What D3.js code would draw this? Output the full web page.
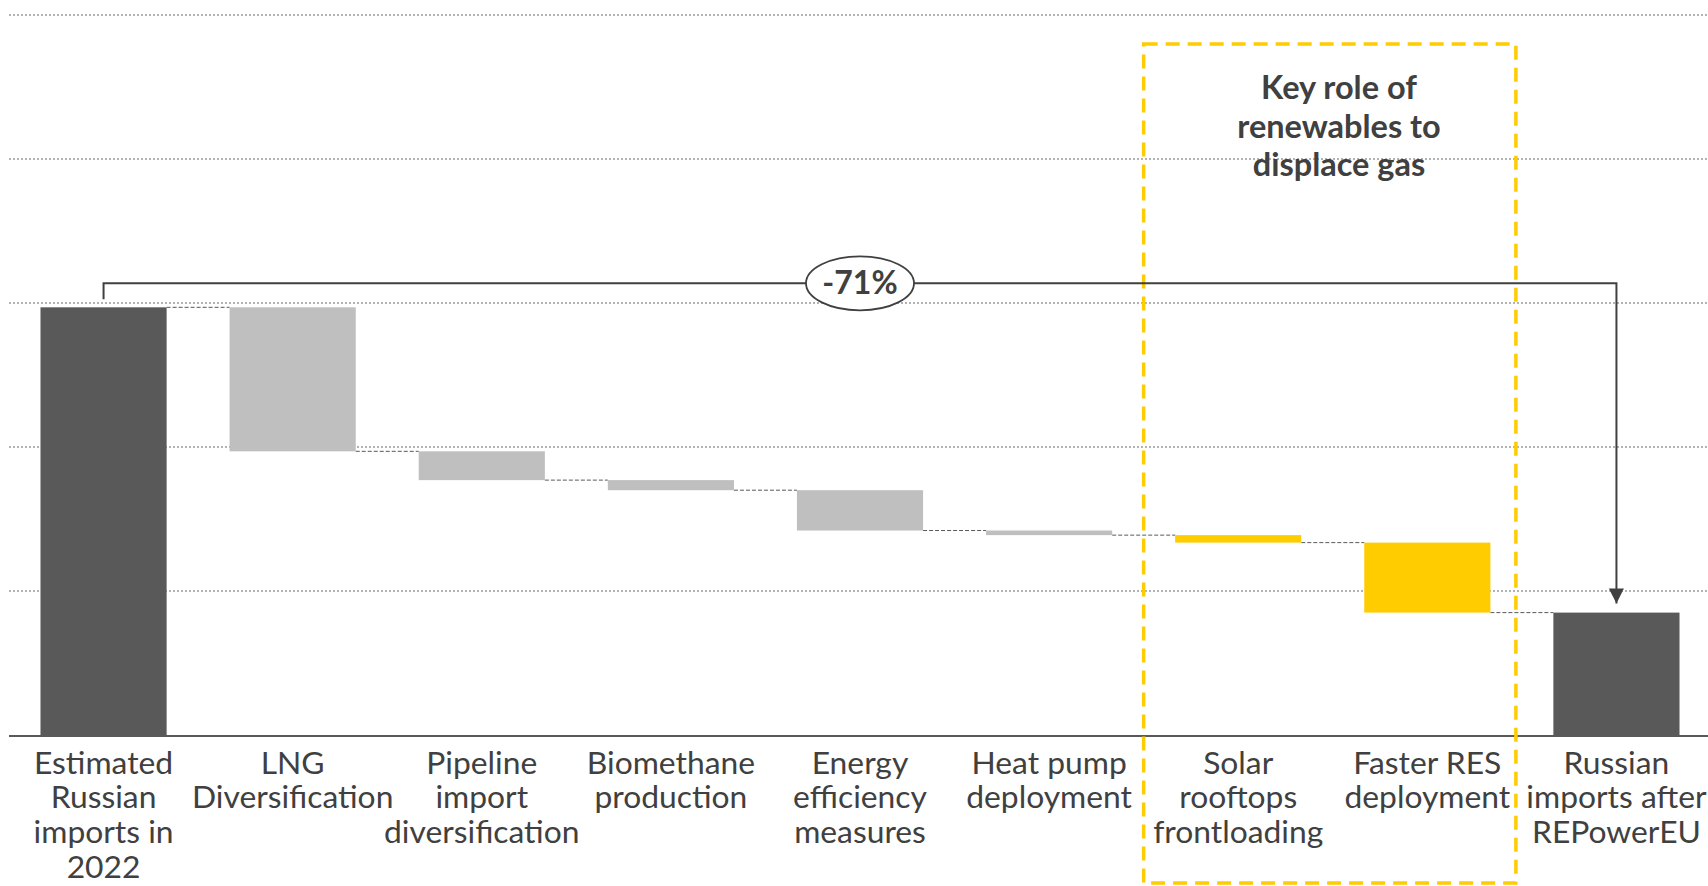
<!DOCTYPE html>
<html>
<head>
<meta charset="utf-8">
<script src="https://cdn.jsdelivr.net/npm/d3@7"></script>
<style>
  html, body { margin: 0; padding: 0; background: #fff; }
  svg { display: block; }
</style>
</head>
<body>
<div class="chart"></div>
<script>
//chart data (bcm-like units, gridline every 50)
const categories = ["start", "lng", "pipeline", "biomethane", "efficiency", "heatpump", "solar", "res", "end"];
const labels = [
    ["Estimated", "Russian", "imports in", "2022"],
    ["LNG", "Diversification"],
    ["Pipeline", "import", "diversification"],
    ["Biomethane", "production"],
    ["Energy", "efficiency", "measures"],
    ["Heat pump", "deployment"],
    ["Solar", "rooftops", "frontloading"],
    ["Faster RES", "deployment"],
    ["Russian", "imports after", "REPowerEU"]
];
const values = [148.5, -50, -10, -3.5, -14, -1.6, -2.6, -24.3, 42.5];
const kinds = ["total", "delta", "delta", "delta", "delta", "delta", "renew", "renew", "total"];
const gridTicks = [50, 100, 150, 200, 250];
const changeLabel = "-71%";
const boxText = ["Key role of", "renewables to", "displace gas"];

const width = 1708;
const height = 886;

const colors = { total: "#595959", delta: "#BFBFBF", renew: "#FFCC00" };

//running totals for the waterfall
let level = 0;
const bars = categories.map((c, i) => {
    let from, to;
    if (kinds[i] === "total") {
        from = 0; to = values[i]; level = values[i];
    } else {
        from = level; to = level + values[i]; level = to;
    }
    return { key: c, from: from, to: to, kind: kinds[i], lines: labels[i] };
});

const xScale = d3.scaleBand()
    .domain(categories)
    .range([9, 1711])
    .paddingInner(0.333)
    .paddingOuter(0.1665);

const yScale = d3.scaleLinear()
    .domain([0, 250])
    .range([735, 15]);

const svg = d3.select(".chart")
    .append("svg")
    .attr("width", width)
    .attr("height", height)
    .style("font-family", "Lato, 'Open Sans', sans-serif");

//dotted gridlines
svg.append("g")
    .selectAll("line")
    .data(gridTicks)
    .enter()
    .append("line")
    .attr("x1", 9)
    .attr("x2", width)
    .attr("y1", d => yScale(d))
    .attr("y2", d => yScale(d))
    .style("stroke", "#9a9a9a")
    .style("stroke-width", 1.5)
    .style("stroke-dasharray", "2,2");

//connectors between bars
svg.append("g")
    .selectAll("line")
    .data(bars.slice(0, -1))
    .enter()
    .append("line")
    .attr("x1", (d) => xScale(d.key) + xScale.bandwidth())
    .attr("x2", (d, i) => xScale(categories[i + 1]))
    .attr("y1", d => yScale(d.to))
    .attr("y2", d => yScale(d.to))
    .style("stroke", "#595959")
    .style("stroke-width", 1)
    .style("stroke-dasharray", "4,2");

//bars
svg.append("g")
    .selectAll("rect")
    .data(bars)
    .enter()
    .append("rect")
    .attr("x", d => xScale(d.key))
    .attr("width", xScale.bandwidth())
    .attr("y", d => yScale(Math.max(d.from, d.to)))
    .attr("height", d => Math.abs(yScale(d.from) - yScale(d.to)))
    .style("fill", d => colors[d.kind]);

//baseline
svg.append("line")
    .attr("x1", 9)
    .attr("x2", width)
    .attr("y1", yScale(0) + 1)
    .attr("y2", yScale(0) + 1)
    .style("stroke", "#595959")
    .style("stroke-width", 2);

//category labels
const lineH = 34.8;
svg.append("g")
    .selectAll("text")
    .data(bars)
    .enter()
    .append("text")
    .attr("text-anchor", "middle")
    .style("font-size", "31.8px")
    .style("fill", "#404040")
    .each(function (d) {
        const cx = xScale(d.key) + xScale.bandwidth() / 2;
        d3.select(this).selectAll("tspan")
            .data(d.lines)
            .enter()
            .append("tspan")
            .attr("x", cx)
            .attr("y", (t, j) => 773.5 + j * lineH)
            .text(t => t);
    });

//yellow dashed box around the renewables
const step = xScale.step();
const gap = step - xScale.bandwidth();
const boxLeft = xScale("solar") - gap / 2;
const boxRight = xScale("res") + xScale.bandwidth() + gap / 2 - 6;
svg.append("rect")
    .attr("x", boxLeft)
    .attr("y", 44)
    .attr("width", boxRight - boxLeft)
    .attr("height", 883 - 44)
    .style("fill", "none")
    .style("stroke", "#FFCC00")
    .style("stroke-width", 3.5)
    .style("stroke-dasharray", "14,8");

svg.append("text")
    .attr("text-anchor", "middle")
    .style("font-size", "32.5px")
    .style("font-weight", "bold")
    .style("fill", "#404040")
    .selectAll("tspan")
    .data(boxText)
    .enter()
    .append("tspan")
    .attr("x", 1339)
    .attr("y", (t, j) => 99 + j * 38.5)
    .text(t => t);

//bracket with arrow from first to last bar
svg.append("defs")
    .append("marker")
    .attr("id", "arrow")
    .attr("viewBox", "0 0 10 10")
    .attr("refX", 10)
    .attr("refY", 5)
    .attr("markerWidth", 16)
    .attr("markerHeight", 15)
    .attr("markerUnits", "userSpaceOnUse")
    .attr("orient", "auto")
    .append("path")
    .attr("d", "M0,0 L10,5 L0,10 Z")
    .style("fill", "#404040");

const x0 = xScale("start") + xScale.bandwidth() / 2;
const x1 = xScale("end") + xScale.bandwidth() / 2;
const yTop = yScale(values[0]) - 24;
svg.append("path")
    .attr("d", `M${x0},${yScale(values[0]) - 8} V${yTop} H${x1} V${yScale(values[values.length - 1]) - 9}`)
    .style("fill", "none")
    .style("stroke", "#404040")
    .style("stroke-width", 2)
    .attr("marker-end", "url(#arrow)");

const ex = xScale("efficiency") + xScale.bandwidth() / 2;
svg.append("ellipse")
    .attr("cx", ex)
    .attr("cy", yTop)
    .attr("rx", 54)
    .attr("ry", 27)
    .style("fill", "#fff")
    .style("stroke", "#404040")
    .style("stroke-width", 1.8);

svg.append("text")
    .attr("x", ex)
    .attr("y", yTop + 11)
    .attr("text-anchor", "middle")
    .style("font-size", "32px")
    .style("font-weight", "bold")
    .style("fill", "#404040")
    .text(changeLabel);
</script>
</body>
</html>
